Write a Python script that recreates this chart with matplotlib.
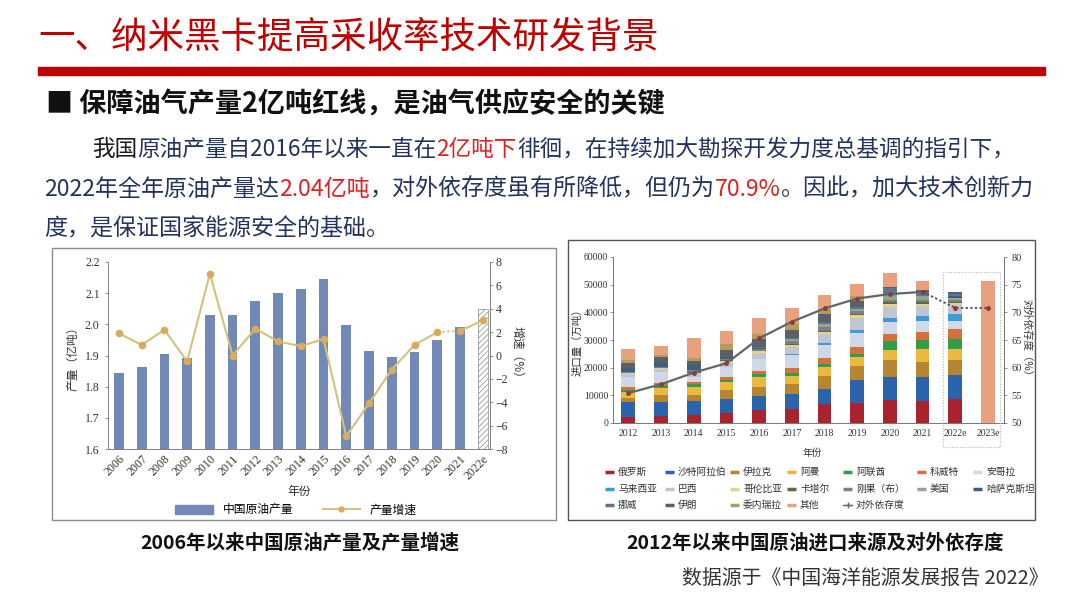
import numpy as np
import matplotlib
matplotlib.use("Agg")
import matplotlib.pyplot as plt
from matplotlib.lines import Line2D
from matplotlib.patches import Rectangle, Patch

plt.rcParams['font.family'] = ['Noto Sans CJK SC', 'DejaVu Sans']
plt.rcParams['hatch.color'] = '#9a9a9a'
plt.rcParams['hatch.linewidth'] = 0.6

# ---- left chart: output and growth ----
years_a = ['2006', '2007', '2008', '2009', '2010', '2011', '2012', '2013', '2014',
           '2015', '2016', '2017', '2018', '2019', '2020', '2021', '2022e']
output_a = [1.845, 1.862, 1.905, 1.893, 2.030, 2.030, 2.075, 2.100, 2.113,
            2.145, 1.998, 1.914, 1.894, 1.910, 1.950, 1.990, 2.050]
growth_a = [1.9, 0.9, 2.2, -0.5, 7.0, 0.0, 2.3, 1.2, 0.8,
            1.4, -6.9, -4.1, -1.2, 0.9, 2.0, 2.1, 3.0]

# ---- right chart: import sources (万吨) and dependence ----
years_b = ['2012', '2013', '2014', '2015', '2016', '2017', '2018', '2019',
           '2020', '2021', '2022e', '2023e']
russia     = [2300, 2400, 3000, 3500, 4600, 5200, 6800, 7300, 8300, 8000, 8600, 0]
saudi      = [5300, 5300, 5000, 5300, 5100, 5200, 5600, 8200, 8400, 8800, 8700, 0]
iraq       = [1600, 2300, 2300, 3000, 3400, 3600, 4500, 5000, 6000, 5400, 5500, 0]
oman       = [1900, 2500, 2800, 3000, 3500, 3100, 3300, 3400, 3800, 4500, 3900, 0]
uae        = [800, 1000, 900, 900, 1000, 1000, 1200, 1200, 3100, 3200, 3600, 0]
kuwait     = [1000, 900, 800, 800, 1300, 1600, 2200, 2200, 2700, 3000, 3600, 0]
angola     = [3900, 4000, 2000, 3800, 4200, 5000, 4700, 5200, 4200, 3900, 3000, 0]
malaysia   = [0, 0, 0, 0, 100, 400, 600, 1000, 1400, 2000, 2600, 0]
brazil     = [900, 1000, 800, 1500, 1900, 2300, 3100, 4400, 4200, 3500, 3000, 0]
colombia   = [300, 400, 500, 700, 800, 900, 1000, 1100, 800, 800, 800, 0]
qatar      = [100, 100, 200, 200, 200, 300, 400, 500, 700, 800, 600, 0]
congo      = [500, 500, 700, 600, 700, 900, 1200, 1000, 800, 700, 500, 0]
usa        = [0, 0, 0, 0, 100, 700, 1100, 600, 1900, 1200, 900, 0]
kazakhstan = [1100, 1200, 1800, 500, 300, 200, 200, 100, 500, 200, 600, 0]
norway     = [0, 0, 100, 0, 200, 300, 500, 900, 2000, 1500, 800, 0]
iran       = [2100, 2100, 1500, 2600, 3100, 3000, 2900, 1900, 400, 600, 700, 0]
venezuela  = [1100, 700, 1000, 2000, 1800, 2000, 1900, 1800, 0, 0, 0, 0]
others     = [4000, 3500, 7200, 5000, 5600, 6000, 5000, 4600, 5000, 3300, 0, 51300]
dependence = [55.4, 57.0, 59.1, 60.8, 65.3, 68.3, 70.7, 72.5, 73.3, 73.7, 70.8, 70.8]

source_names = ['俄罗斯', '沙特阿拉伯', '伊拉克', '阿曼', '阿联酋', '科威特', '安哥拉',
                '马来西亚', '巴西', '哥伦比亚', '卡塔尔', '刚果（布）', '美国', '哈萨克斯坦',
                '挪威', '伊朗', '委内瑞拉', '其他']
source_vals = [russia, saudi, iraq, oman, uae, kuwait, angola, malaysia, brazil, colombia,
               qatar, congo, usa, kazakhstan, norway, iran, venezuela, others]
source_colors = ['#a8232e', '#2b63ad', '#b5862f', '#ecb83e', '#2f9c4e', '#d56f3c', '#cfd8e6',
                 '#3c9ad6', '#bfc6d2', '#e6d28c', '#5d6b3b', '#7b7f87', '#93a58e', '#3c5e80',
                 '#5e7591', '#5b5f68', '#b19b5d', '#e9a07f']

W, H = 1080, 608
fig = plt.figure(figsize=(W / 100, H / 100), dpi=100)
fig.patch.set_facecolor('white')


def fx(px):
    return px / W


def fy(py):
    return 1 - py / H


def rich_line(x, y, parts, size, weight='normal'):
    r = fig.canvas.get_renderer()
    for s, c in parts:
        t = fig.text(x, y, s, color=c, fontsize=size, va='center', ha='left', weight=weight)
        bb = t.get_window_extent(renderer=r)
        x += bb.width / fig.bbox.width


# header
fig.text(fx(38), fy(38), '一、纳米黑卡提高采收率技术研发背景', color='#C00000',
         fontsize=26.3, va='center', ha='left')
fig.patches.append(Rectangle((fx(38), fy(75)), fx(1045) - fx(38), 8 / H,
                             transform=fig.transFigure, color='#C00000'))
fig.text(fx(46), fy(104), '■ 保障油气产量2亿吨红线，是油气供应安全的关键', color='#111111',
         fontsize=19.5, weight='bold', va='center', ha='left')

navy = '#22335e'
red = '#e02020'
rich_line(fx(92), fy(149), [('我国', '#1a1a1a'), ('原油产量自2016年以来一直在', navy),
                            ('2亿吨下', red),
                            ('徘徊，在持续加大勘探开发力度总基调的指引下，', navy)], 16.3)
rich_line(fx(44), fy(189), [('2022年全年原油产量达', navy), ('2.04亿吨', red),
                            ('，对外依存度虽有所降低，但仍为', navy), ('70.9%', red),
                            ('。因此，加大技术创新力', navy)], 16.6)
rich_line(fx(44), fy(229), [('度，是保证国家能源安全的基础。', navy)], 16.6)

# panel borders
fig.patches.append(Rectangle((fx(52), fy(520)), fx(556) - fx(52), (520 - 248) / H,
                             transform=fig.transFigure, fill=False, ec='#8c8c8c', lw=1))
fig.patches.append(Rectangle((fx(568), fy(520)), fx(1035) - fx(568), (520 - 240) / H,
                             transform=fig.transFigure, fill=False, ec='#555555', lw=1))

# ---------------- left chart ----------------
serif = 'Liberation Serif'
axis_c = '#808080'
ax1 = fig.add_axes([fx(108), fy(449), fx(490) - fx(108), (449 - 262) / H])
xa = np.arange(len(years_a))
ax1.bar(xa[:-1], output_a[:-1], width=0.43, color='#7089b6')
ax1.bar(xa[-1], output_a[-1], width=0.43, color='white', edgecolor='#9a9a9a',
        hatch='//////', lw=0.6)
ax1.set_ylim(1.6, 2.2)
ax1.set_xlim(-0.48, len(years_a) - 0.68)
ax1.set_yticks(np.round(np.arange(1.6, 2.21, 0.1), 1))
ax1.set_yticklabels([f'{v:.1f}' for v in np.arange(1.6, 2.21, 0.1)])
ax1.set_xticks(xa)
ax1.set_xticklabels(years_a, rotation=45, ha='right', rotation_mode='anchor')
ax1.tick_params(labelsize=8.5, labelfontfamily=serif, colors='#333333', length=2.5,
                color=axis_c, width=0.6)
ax1.tick_params(axis='x', length=0, pad=3)
ax1.spines['top'].set_visible(False)
for s in ['left', 'bottom', 'right']:
    ax1.spines[s].set_color(axis_c)
    ax1.spines[s].set_linewidth(0.7)
ax1.set_ylabel('产量（亿吨）', fontsize=8.5, color='#333333', labelpad=4)
ax1.set_xlabel('年份', fontsize=8.5, color='#333333', labelpad=2)

ax1b = ax1.twinx()
ax1b.set_ylim(-8, 8)
ax1b.set_yticks(range(-8, 9, 2))
ax1b.tick_params(labelsize=8.5, labelfontfamily=serif, colors='#333333', length=2.5,
                 color=axis_c, width=0.6, pad=1.5)
for s in ['top', 'left', 'bottom']:
    ax1b.spines[s].set_visible(False)
ax1b.spines['right'].set_color(axis_c)
ax1b.spines['right'].set_linewidth(0.7)
fig.text(fx(517), fy(355), '增速（%）', fontsize=8.5, color='#333333', rotation=270,
         ha='center', va='center')
line_c = '#d2c27c'
mark_c = '#d9ab5c'
i20 = years_a.index('2020')
ax1b.plot(xa[:i20 + 1], growth_a[:i20 + 1], color=line_c, lw=1.5)
ax1b.plot(xa[i20:i20 + 2], growth_a[i20:i20 + 2], color=line_c, lw=1.2, ls=(0, (1.5, 1.5)))
ax1b.plot(xa[i20 + 1:], growth_a[i20 + 1:], color=line_c, lw=1.5)
ax1b.plot(xa, growth_a, ls='none', marker='o', ms=4.5, color=mark_c)

h1 = [Patch(color='#7089b6'),
      Line2D([], [], color=line_c, lw=1.5, marker='o', ms=3.5, mfc=mark_c, mec=mark_c)]
ax1.legend(h1, ['中国原油产量', '产量增速'], loc='center', ncol=2, frameon=False,
           bbox_to_anchor=(fx(296), fy(510)), bbox_transform=fig.transFigure,
           fontsize=8.5, handlelength=3.2, columnspacing=2.5, handleheight=0.7)

# ---------------- right chart ----------------
ax2 = fig.add_axes([fx(613), fy(423), fx(1004) - fx(613), (423 - 257) / H])
xb = np.arange(len(years_b))
bottom = np.zeros(len(years_b))
for name, vals, col in zip(source_names, source_vals, source_colors):
    ax2.bar(xb, vals, bottom=bottom, width=0.42, color=col, label=name)
    bottom += np.array(vals)
ax2.set_ylim(0, 60000)
ax2.set_xlim(-0.47, len(years_b) - 0.51)
ax2.set_yticks(range(0, 60001, 10000))
ax2.set_xticks(xb)
ax2.set_xticklabels(years_b)
ax2.tick_params(labelsize=7, labelfontfamily=serif, colors='#333333', length=2,
                color=axis_c, width=0.6, pad=1.5)
ax2.tick_params(axis='x', length=0, pad=4)
ax2.spines['top'].set_visible(False)
for s in ['left', 'bottom', 'right']:
    ax2.spines[s].set_color('#777777')
    ax2.spines[s].set_linewidth(0.7)
fig.text(fx(577), fy(340), '进口量（万吨）', fontsize=7.5, color='#333333', rotation=90,
         ha='center', va='center')
fig.text(fx(812), fy(453), '年份', fontsize=7, color='#333333', ha='center', va='center')

ax2b = ax2.twinx()
ax2b.set_ylim(50, 80)
ax2b.set_yticks(range(50, 81, 5))
ax2b.tick_params(labelsize=7.5, labelfontfamily=serif, colors='#333333', length=2,
                 color=axis_c, width=0.6)
for s in ['top', 'left', 'bottom']:
    ax2b.spines[s].set_visible(False)
ax2b.spines['right'].set_color('#777777')
ax2b.spines['right'].set_linewidth(0.7)
fig.text(fx(1027), fy(340), '对外依存度（%）', fontsize=7.5, color='#333333', rotation=270,
         ha='center', va='center')
dep_c = '#62666c'
i21 = years_b.index('2021')
ax2b.plot(xb[:i21 + 1], dependence[:i21 + 1], color=dep_c, lw=1.6)
ax2b.plot(xb[i21:], dependence[i21:], color='#6b4f52', lw=1.4, ls=(0, (1.2, 1.2)))
ax2b.plot(xb, dependence, ls='none', marker='o', ms=2.5, color='#8a3c40')

# dotted box around the estimates
fig.patches.append(Rectangle((fx(943), fy(447)), fx(1000) - fx(943), (447 - 272) / H,
                             transform=fig.transFigure, fill=False, ec='#b5b5b5',
                             lw=0.8, ls=(0, (1, 1.5))))

# manual legend, row-major like the original
leg_names = source_names + ['对外依存度']
leg_cols = [605, 665, 730, 787, 843, 917, 973]
leg_rows = [472, 489, 505]
for k, name in enumerate(leg_names):
    r, c = divmod(k, 7)
    x0 = fx(leg_cols[c])
    y0 = fy(leg_rows[r])
    if name == '对外依存度':
        fig.lines.append(Line2D([x0, x0 + fx(9)], [y0, y0], transform=fig.transFigure,
                                color=dep_c, lw=1.0))
        fig.lines.append(Line2D([x0 + fx(4.5)], [y0], transform=fig.transFigure,
                                color=dep_c, marker='+', ms=4, mew=1))
    else:
        fig.lines.append(Line2D([x0, x0 + fx(9)], [y0, y0], transform=fig.transFigure,
                                color=source_colors[k], lw=2.5, solid_capstyle='butt'))
    fig.text(x0 + fx(13), y0, name, fontsize=7, va='center', ha='left', color='#333333')

# captions
fig.text(fx(300), fy(543), '2006年以来中国原油产量及产量增速', fontsize=14, weight='bold',
         ha='center', va='center', color='#111111')
fig.text(fx(815), fy(543), '2012年以来中国原油进口来源及对外依存度', fontsize=14, weight='bold',
         ha='center', va='center', color='#111111')
fig.text(fx(1048), fy(578), '数据源于《中国海洋能源发展报告 2022》', fontsize=14.3,
         ha='right', va='center', color='#333333')

fig.savefig('out.png', dpi=100, facecolor='white')
